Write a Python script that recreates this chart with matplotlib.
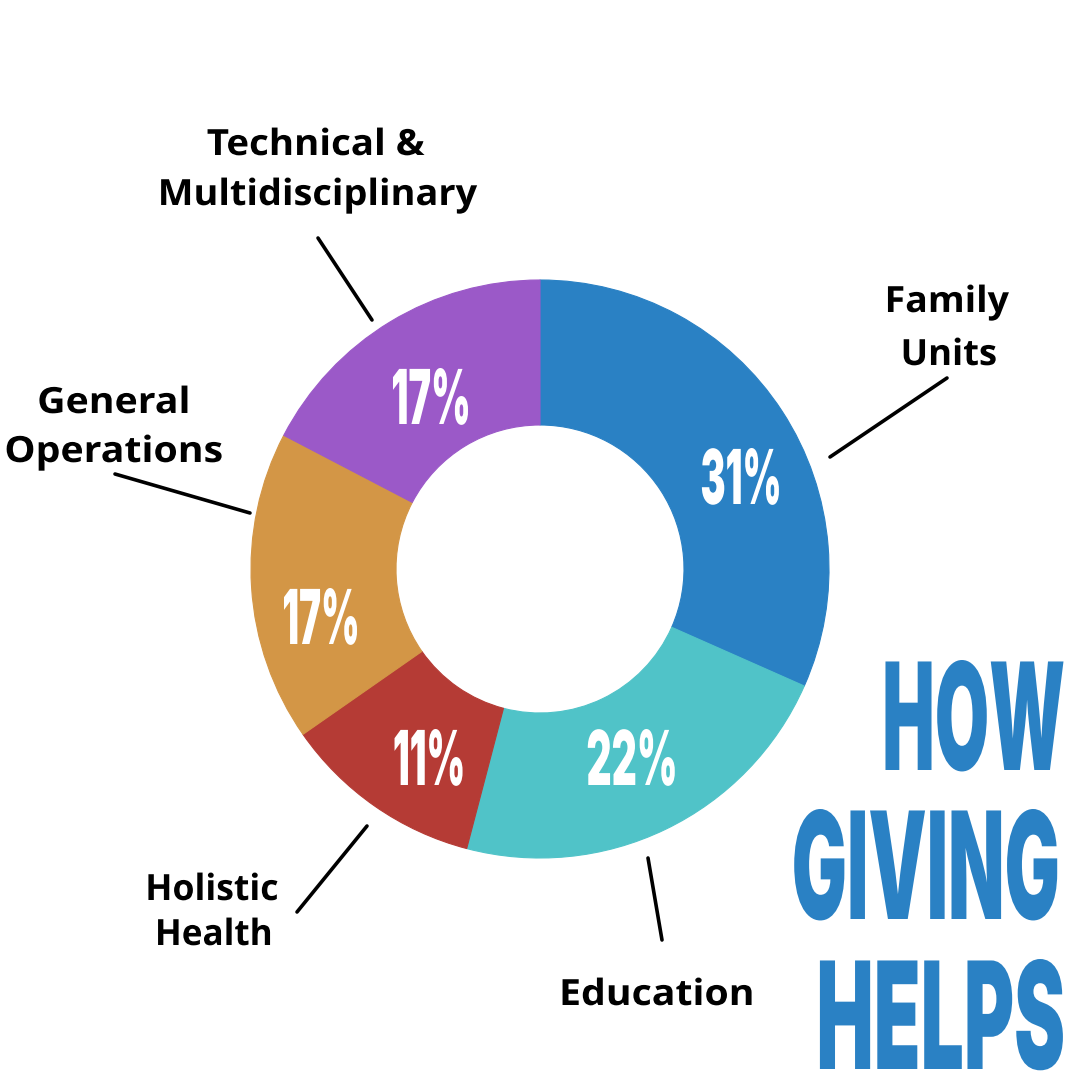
import matplotlib
matplotlib.use("Agg")
import matplotlib.pyplot as plt
from matplotlib.patheffects import AbstractPathEffect
from matplotlib.transforms import Affine2D

# data
categories = ["Family Units", "Education", "Holistic Health",
              "General Operations", "Technical & Multidisciplinary"]
shares = [31, 22, 11, 17, 17]
pct_labels = ["31%", "22%", "11%", "17%", "17%"]
colors = ["#2A81C4", "#50C3C8", "#B53B35", "#D39646", "#9B59C8"]
title_lines = ["HOW", "GIVING", "HELPS"]

# label lines as drawn
label_lines = [["Family", "Units"], ["Education"], ["Holistic", "Health"],
               ["General", "Operations"], ["Technical &", "Multidisciplinary"]]

H = 1080  # positions below are image pixels, y from the top


class Fit(AbstractPathEffect):
    """scale the glyphs so a line is width_px wide (and height_px tall
    above the baseline), optionally thickened with a stroke"""
    def __init__(self, width_px, height_px=None, thicken=0):
        super().__init__()
        self.width_px = width_px
        self.height_px = height_px
        self.thicken = thicken

    def draw_path(self, renderer, gc, tpath, affine, rgbFace=None):
        ext = tpath.get_extents()
        sc = affine.get_matrix()[0, 0]
        lw = renderer.points_to_pixels(self.thicken)
        sx = (self.width_px - lw) / (ext.width * sc)
        sy = 1.0
        if self.height_px is not None:
            sy = (self.height_px - lw) / (ext.y1 * sc)
        cx = ext.x0 + ext.width / 2
        t = Affine2D().translate(-cx, 0).scale(sx, sy).translate(cx, 0)
        if self.thicken:
            gc0 = renderer.new_gc()
            gc0.copy_properties(gc)
            gc0.set_linewidth(self.thicken)
            gc0.set_foreground(rgbFace)
            gc0.set_joinstyle("miter")
            renderer.draw_path(gc0, tpath, t + affine, rgbFace)
            gc0.restore()
        else:
            renderer.draw_path(gc, tpath, t + affine, rgbFace)


fig = plt.figure(figsize=(10.8, 10.8), dpi=100)
ax = fig.add_axes([0, 0, 1, 1])

cx, cy, r_out, ring = 540, 569, 289, 145
wedges, _ = ax.pie(shares, colors=colors, startangle=90, counterclock=False,
                   center=(cx, H - cy), radius=r_out, frame=True,
                   wedgeprops=dict(width=ring, linewidth=0.8))
for w in wedges:
    w.set_edgecolor(w.get_facecolor())

ax.set_xlim(0, 1080)
ax.set_ylim(0, 1080)
ax.set_aspect("equal")
ax.axis("off")

heavy = ["Inter", "DejaVu Sans"]

# percent labels: (center x, baseline y, width)
pct_pos = [(741, 504, 77), (632, 785, 87), (429, 785, 68),
           (321, 644, 73), (431, 424, 75)]
for txt, (x, y, w) in zip(pct_labels, pct_pos):
    ax.text(x, H - y, txt, color="white", fontsize=26, fontweight="black",
            family=heavy, ha="center", va="baseline",
            path_effects=[Fit(w, 56)])

# category labels: per line (center x, baseline y, width)
line_pos = [[(947, 312, 121), (949, 365, 92)],
            [(657, 1005, 189)],
            [(212, 900, 129), (214, 945, 112)],
            [(114, 413, 148), (114, 462, 215)],
            [(316, 155, 217), (318, 205, 316)]]
for lines, poss in zip(label_lines, line_pos):
    for s, (x, y, w) in zip(lines, poss):
        ax.text(x, H - y, s, color="black", fontsize=26, fontweight="bold",
                family="Open Sans", ha="center", va="baseline",
                path_effects=[Fit(w)])

# leader lines: (label end, ring end)
leaders = [((947, 378), (830, 457)),
           ((648, 858), (662, 940)),
           ((367, 826), (297, 912)),
           ((115, 474), (250, 513)),
           ((318, 238), (372, 320))]
for (x1, y1), (x2, y2) in leaders:
    ax.annotate("", xy=(x2, H - y2), xytext=(x1, H - y1),
                arrowprops=dict(arrowstyle="-", color="black", lw=2.6,
                                shrinkA=0, shrinkB=0))

# title: (center x, baseline y, width)
title_pos = [(974, 770, 178), (926, 919, 263), (941, 1069, 243)]
for s, (x, y, w) in zip(title_lines, title_pos):
    ax.text(x, H - y, s, color="#2A81C4", fontsize=36, fontweight="black",
            family=heavy, ha="center", va="baseline",
            path_effects=[Fit(w, 110)])

fig.savefig("out.png", dpi=100, facecolor="white")
